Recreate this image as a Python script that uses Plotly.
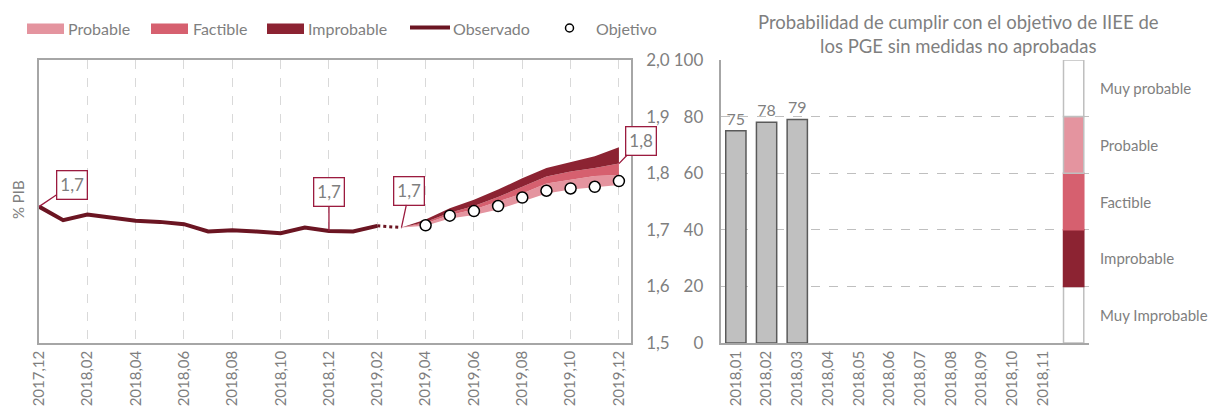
import plotly.graph_objects as go

W, H = 1221, 418

# --- data -------------------------------------------------------------------
months = ["2017,12", "2018,01", "2018,02", "2018,03", "2018,04", "2018,05", "2018,06",
          "2018,07", "2018,08", "2018,09", "2018,10", "2018,11", "2018,12", "2019,01",
          "2019,02", "2019,03", "2019,04", "2019,05", "2019,06", "2019,07", "2019,08",
          "2019,09", "2019,10", "2019,11", "2019,12"]
month_ticks = months[::2]

obs_months = months[:15]
observed = [1.741, 1.717, 1.727, 1.721, 1.716, 1.714, 1.710, 1.697, 1.699, 1.697,
            1.694, 1.704, 1.698, 1.697, 1.707]
gap_months = ["2019,02", "2019,03"]
gap_values = [1.707, 1.704]

fan_months = months[15:]
fan_bottom = [1.704, 1.707, 1.720, 1.726, 1.736, 1.750, 1.764, 1.771, 1.775, 1.779]
fan_probable = [1.704, 1.711, 1.726, 1.736, 1.750, 1.764, 1.782, 1.789, 1.795, 1.797]
fan_factible = [1.704, 1.714, 1.730, 1.742, 1.758, 1.776, 1.794, 1.803, 1.809, 1.817]
fan_improbable = [1.704, 1.718, 1.738, 1.753, 1.771, 1.791, 1.809, 1.819, 1.830, 1.846]

target_months = months[16:]
target = [1.708, 1.725, 1.733, 1.742, 1.757, 1.769, 1.773, 1.776, 1.786]

prob_months = ["2018,01", "2018,02", "2018,03", "2018,04", "2018,05", "2018,06",
               "2018,07", "2018,08", "2018,09", "2018,10", "2018,11", " "]
prob_values = [75, 78, 79]

scale_names = ["Muy Improbable", "Improbable", "Factible", "Probable", "Muy probable"]
scale_base = [0, 20, 40, 60, 80]
scale_size = [20, 20, 20, 20, 20]

# --- style ------------------------------------------------------------------
GREY = "#7f7f7f"
C_PROB = "#e4949f"
C_FACT = "#d6606f"
C_IMPR = "#8c2332"
C_OBS = "#6b1522"
C_BOX = "#9b1b3f"
FONT = "Lato"


def px_x(p):
    return p / W


def px_y(p):
    return 1 - p / H


def fmt(v):
    return f"{v:.1f}".replace(".", ",")


def label(x, y, text, size=16, anchor="left", **kw):
    return dict(x=px_x(x), y=px_y(y), xref="paper", yref="paper", text=text, showarrow=False,
                xanchor=anchor, yanchor="middle", font=dict(size=size, color=GREY, family=FONT), **kw)


fig = go.Figure()

# fan chart bands (bottom -> top)
fig.add_trace(go.Scatter(x=fan_months, y=fan_bottom, mode="lines", line=dict(width=0),
                         showlegend=False, hoverinfo="skip"))
for vals, col in [(fan_probable, C_PROB), (fan_factible, C_FACT), (fan_improbable, C_IMPR)]:
    fig.add_trace(go.Scatter(x=fan_months, y=vals, mode="lines", line=dict(width=0, color=col),
                             fill="tonexty", fillcolor=col, showlegend=False))

fig.add_trace(go.Scatter(x=obs_months, y=observed, mode="lines",
                         line=dict(color=C_OBS, width=4), showlegend=False))
fig.add_trace(go.Scatter(x=gap_months, y=gap_values, mode="lines",
                         line=dict(color=C_OBS, width=3, dash="dot"), showlegend=False))
fig.add_trace(go.Scatter(x=target_months, y=target, mode="markers",
                         marker=dict(size=11, color="white", line=dict(color="black", width=1.5)),
                         showlegend=False))

# right panel
fig.add_trace(go.Bar(x=prob_months[:len(prob_values)], y=prob_values, width=0.66,
                     text=[str(v) for v in prob_values], textposition="outside",
                     textfont=dict(size=16, color=GREY, family=FONT), cliponaxis=False,
                     marker=dict(color="#c0c0c0", line=dict(color="#5a5a5a", width=1.5)),
                     xaxis="x2", yaxis="y2", showlegend=False))
fig.add_trace(go.Bar(x=[prob_months[-1]] * len(scale_base), y=scale_size, base=scale_base,
                     width=0.66, xaxis="x2", yaxis="y2", showlegend=False,
                     marker=dict(color=["white", C_IMPR, C_FACT, C_PROB, "white"],
                                 line=dict(color=["#bfbfbf", C_IMPR, C_FACT, "#bfbfbf", "#bfbfbf"],
                                           width=1.5))))

# callouts
callouts = [
    (obs_months[0], observed[0], 33, -22),
    (obs_months[12], observed[12], 0, -39),
    (fan_months[0], fan_factible[0], 8, -37),
    (fan_months[-1], fan_factible[-1], 22, -23),
]
annotations = []
for x, y, ax, ay in callouts:
    annotations.append(dict(x=x, y=y, xref="x", yref="y", text=fmt(y), showarrow=True,
                            arrowhead=0, arrowwidth=1.3, arrowcolor=C_BOX, ax=ax, ay=ay,
                            bordercolor=C_BOX, borderwidth=1.3, borderpad=3, bgcolor="white",
                            font=dict(size=17, color=GREY, family=FONT)))

# right panel scale labels
for name, b, s in zip(scale_names, scale_base, scale_size):
    annotations.append(dict(x=px_x(1098), y=b + s / 2, xref="paper", yref="y2", text=name,
                            showarrow=False, xanchor="left", yanchor="middle",
                            font=dict(size=15, color=GREY, family=FONT)))

annotations.append(label(958, 33.5, "Probabilidad de cumplir con el objetivo de IIEE de<br>"
                         "los PGE sin medidas no aprobadas", size=18.5, anchor="center"))
annotations.append(label(18, 200, "% PIB", size=15, anchor="center", textangle=-90))

# manual legend
shapes = []
legend_items = [("Probable", C_PROB, 27, 66), ("Factible", C_FACT, 151, 191),
                ("Improbable", C_IMPR, 267, 306)]
for name, col, x0, tx in legend_items:
    shapes.append(dict(type="rect", xref="paper", yref="paper", x0=px_x(x0), x1=px_x(x0 + 37),
                       y0=px_y(34), y1=px_y(23.5), fillcolor=col, line=dict(width=0)))
    annotations.append(label(tx, 28.5, name))
shapes.append(dict(type="line", xref="paper", yref="paper", x0=px_x(410), x1=px_x(450),
                   y0=px_y(27.5), y1=px_y(27.5), line=dict(color=C_OBS, width=4)))
annotations.append(label(451, 28.5, "Observado"))
shapes.append(dict(type="circle", xref="paper", yref="paper", x0=px_x(565.5), x1=px_x(573.5),
                   y0=px_y(32), y1=px_y(24), fillcolor="white", line=dict(color="black", width=1.5)))
annotations.append(label(594, 28.5, "Objetivo"))

fig.update_layout(
    template="none",
    width=W, height=H,
    margin=dict(l=0, r=0, t=0, b=0, pad=0),
    paper_bgcolor="white", plot_bgcolor="white",
    separators=",.",
    font=dict(family=FONT, color=GREY),
    barmode="overlay",
    showlegend=False,
    annotations=annotations,
    shapes=shapes,
    xaxis=dict(domain=[px_x(39), px_x(631)], anchor="y", type="category", automargin=False,
               categoryorder="array", categoryarray=months, range=[0, 24.5],
               tickmode="array", tickvals=month_ticks, ticktext=month_ticks, tickangle=-90,
               showgrid=True, griddash="dash", gridcolor="#d9d9d9", gridwidth=1,
               showline=True, mirror=True, linecolor="#a6a6a6", linewidth=1.5,
               ticks="", tickfont=dict(size=15, color=GREY), zeroline=False),
    yaxis=dict(domain=[px_y(343), px_y(60)], anchor="x", range=[1.5, 2.0], side="right",
               automargin=False, dtick=0.1, tick0=1.5, tickformat=".1f", showgrid=False,
               zeroline=False, showline=True, mirror=True, linecolor="#a6a6a6", linewidth=1.5,
               ticks="", ticklabelstandoff=10, tickfont=dict(size=17, color=GREY)),
    xaxis2=dict(domain=[px_x(720.5), px_x(1089)], anchor="y2", type="category", automargin=False,
                categoryorder="array", categoryarray=prob_months, range=[-0.5, 11.5],
                tickangle=-90, showgrid=False, showline=True, linecolor="#a6a6a6",
                linewidth=1.5, ticks="", tickfont=dict(size=15, color=GREY)),
    yaxis2=dict(domain=[px_y(343), px_y(60)], anchor="x2", range=[0, 100], dtick=20,
                automargin=False, showgrid=True, griddash="dash", gridcolor="#bfbfbf", gridwidth=1.2,
                zeroline=False, showline=True, linecolor="#a6a6a6", linewidth=1.5,
                ticks="", ticklabelstandoff=12, tickfont=dict(size=17, color=GREY)),
)

fig.write_html("out.html", config={"displayModeBar": False},
               post_script="document.body.style.margin = '0';")
